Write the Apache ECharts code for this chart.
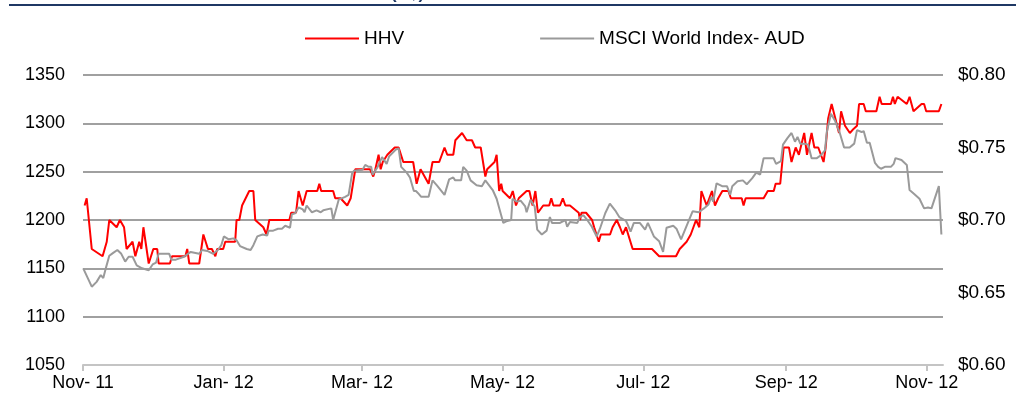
<!DOCTYPE html>
<html><head><meta charset="utf-8">
<script src="https://cdn.jsdelivr.net/npm/echarts@6/dist/echarts.min.js"></script>
<style>html,body{margin:0;padding:0;background:#fff}#c{width:1016px;height:408px}</style>
</head><body><div id="c"></div>
<script>
// x values are days since 1 Nov 2011
const monthTicks = [0, 61, 121, 182, 243, 305, 366];
const monthLabels = ['Nov- 11', 'Jan- 12', 'Mar- 12', 'May- 12', 'Jul- 12', 'Sep- 12', 'Nov- 12'];
const seriesNames = ['HHV', 'MSCI World Index- AUD'];

// HHV share price (A$), right axis
const hhv = [[0.7,0.71],[1.6,0.715],[3.8,0.68],[8.5,0.675],[10.3,0.685],[11.4,0.70],[14.6,0.695],[16.0,0.70],[17.8,0.695],[18.9,0.68],[21.5,0.685],[22.7,0.675],[24.4,0.685],[25.3,0.68],[26.2,0.695],[28.5,0.67],[30.5,0.68],[32.2,0.68],[32.8,0.67],[37.7,0.67],[38.6,0.675],[44.4,0.675],[45.2,0.68],[46.1,0.67],[50.4,0.67],[52.2,0.69],[54.2,0.68],[55.9,0.68],[57.4,0.675],[58.2,0.68],[60.8,0.68],[61.7,0.685],[66.0,0.685],[66.6,0.70],[67.8,0.70],[69.0,0.71],[72.1,0.72],[73.9,0.72],[74.7,0.70],[78.2,0.695],[79.6,0.69],[80.8,0.70],[89.5,0.70],[90.3,0.705],[92.4,0.705],[93.5,0.72],[95.3,0.71],[97.0,0.72],[101.6,0.72],[102.5,0.725],[103.3,0.72],[108.5,0.72],[109.4,0.715],[111.7,0.715],[114.6,0.71],[116.1,0.715],[118.1,0.735],[124.5,0.735],[125.9,0.73],[126.8,0.735],[128.2,0.745],[129.1,0.735],[130.0,0.74],[132.0,0.745],[135.2,0.75],[136.9,0.75],[138.9,0.74],[143.2,0.74],[144.7,0.725],[146.4,0.735],[149.9,0.725],[151.6,0.74],[154.5,0.74],[156.8,0.75],[158.0,0.745],[160.6,0.745],[161.5,0.755],[164.4,0.76],[166.4,0.755],[168.7,0.755],[170.1,0.75],[172.5,0.75],[174.5,0.73],[175.3,0.735],[178.5,0.74],[179.4,0.745],[180.5,0.72],[181.4,0.725],[182.0,0.72],[185.2,0.715],[186.4,0.72],[187.8,0.71],[189.0,0.715],[192.4,0.72],[193.6,0.72],[195.0,0.71],[196.2,0.72],[197.3,0.705],[199.6,0.71],[202.2,0.71],[203.1,0.715],[204.0,0.71],[206.9,0.71],[208.1,0.715],[209.2,0.71],[211.2,0.71],[215.0,0.705],[215.6,0.70],[216.2,0.705],[218.2,0.705],[220.8,0.70],[221.7,0.695],[223.7,0.685],[224.6,0.69],[228.6,0.69],[229.7,0.695],[231.5,0.70],[232.9,0.695],[234.1,0.69],[235.5,0.695],[238.4,0.68],[246.8,0.68],[249.9,0.675],[257.2,0.675],[258.8,0.68],[261.8,0.685],[263.6,0.69],[265.9,0.70],[267.3,0.695],[268.2,0.72],[270.5,0.71],[272.8,0.72],[274.1,0.71],[275.5,0.715],[277.3,0.72],[279.9,0.72],[281.0,0.715],[285.7,0.715],[286.5,0.71],[287.4,0.715],[295.2,0.715],[297.0,0.72],[299.6,0.72],[300.4,0.725],[302.4,0.725],[303.9,0.75],[306.2,0.75],[307.3,0.74],[309.1,0.75],[310.5,0.745],[312.8,0.76],[314.0,0.745],[316.0,0.76],[317.2,0.75],[318.9,0.75],[321.2,0.74],[322.1,0.75],[323.2,0.77],[324.7,0.78],[327.9,0.76],[328.8,0.775],[330.5,0.765],[332.6,0.76],[334.3,0.763],[335.7,0.765],[336.6,0.78],[338.6,0.78],[339.5,0.775],[344.1,0.775],[345.5,0.785],[346.4,0.78],[350.4,0.78],[351.3,0.785],[352.1,0.78],[353.3,0.785],[357.3,0.78],[358.5,0.785],[359.0,0.785],[360.2,0.775],[363.7,0.78],[364.8,0.78],[365.7,0.775],[371.2,0.775],[372.3,0.78]];

// MSCI World Index in AUD, left axis
const msci = [[0.1,1150],[3.8,1131],[5.9,1136],[7.7,1143],[8.8,1140],[10.0,1151],[11.4,1163],[13.1,1166],[14.9,1169],[16.6,1165],[18.3,1157],[19.8,1162],[21.5,1162],[23.3,1153],[25.6,1150],[28.5,1148],[30.2,1154],[31.7,1156],[32.8,1165],[37.4,1165],[38.3,1159],[40.3,1159],[43.8,1162],[46.7,1167],[50.4,1165],[51.6,1169],[53.9,1168],[56.5,1165],[58.5,1169],[60.0,1174],[61.1,1183],[63.2,1180],[65.2,1181],[66.6,1179],[68.1,1173],[71.0,1170],[72.7,1169],[73.9,1174],[75.6,1183],[77.9,1185],[79.9,1184],[80.5,1189],[82.5,1189],[84.6,1191],[86.3,1191],[87.7,1194],[89.8,1192],[90.6,1206],[92.0,1207],[93.5,1213],[95.3,1211],[96.1,1208],[97.0,1215],[99.3,1208],[101.3,1210],[103.1,1208],[104.2,1210],[107.7,1212],[108.5,1200],[110.9,1221],[113.7,1224],[115.2,1226],[116.7,1248],[117.5,1251],[121.3,1252],[122.4,1257],[123.9,1255],[125.0,1255],[125.6,1247],[127.6,1254],[129.7,1265],[131.7,1258],[132.8,1266],[135.7,1273],[136.9,1274],[138.0,1255],[140.4,1249],[141.8,1244],[143.5,1230],[144.4,1230],[145.6,1227],[146.7,1224],[149.9,1224],[151.6,1241],[153.4,1236],[156.8,1226],[158.8,1242],[160.6,1244],[161.4,1241],[164.0,1241],[164.9,1255],[166.4,1251],[168.1,1241],[170.7,1236],[173.0,1235],[174.5,1241],[177.7,1231],[179.4,1222],[182.3,1197],[184.0,1199],[185.7,1200],[186.3,1222],[188.1,1219],[189.8,1220],[191.8,1214],[192.4,1208],[194.1,1221],[195.9,1214],[197.0,1190],[199.0,1185],[201.1,1189],[202.5,1203],[203.4,1197],[206.9,1197],[209.2,1200],[210.0,1193],[211.2,1198],[214.4,1197],[215.5,1203],[217.0,1205],[218.7,1200],[220.7,1193],[222.8,1183],[224.2,1191],[226.5,1207],[228.5,1217],[230.8,1210],[232.6,1203],[235.5,1199],[236.3,1195],[237.5,1188],[238.9,1197],[241.5,1197],[243.8,1190],[245.0,1197],[247.6,1183],[249.9,1178],[251.6,1167],[253.1,1192],[256.0,1194],[257.4,1191],[259.4,1180],[261.8,1194],[264.4,1209],[267.0,1208],[269.3,1212],[271.3,1216],[272.5,1224],[273.3,1219],[274.8,1238],[275.4,1239],[277.2,1235],[279.3,1235],[280.7,1226],[281.6,1235],[283.9,1240],[286.2,1241],[287.9,1237],[290.2,1243],[292.0,1249],[293.7,1247],[295.2,1264],[299.5,1264],[300.6,1258],[302.7,1261],[303.6,1278],[305.6,1285],[307.3,1290],[308.8,1281],[309.9,1286],[311.1,1279],[312.8,1279],[314.5,1278],[316.0,1264],[318.3,1264],[320.0,1267],[321.8,1272],[322.6,1291],[324.4,1310],[326.1,1303],[328.1,1291],[330.1,1275],[332.5,1275],[334.5,1279],[335.7,1293],[337.7,1291],[338.6,1292],[340.0,1280],[341.2,1280],[343.5,1259],[344.9,1255],[346.1,1253],[347.8,1255],[350.4,1255],[351.6,1258],[352.4,1264],[355.0,1262],[357.3,1257],[358.5,1231],[360.5,1227],[362.8,1222],[364.8,1212],[366.5,1213],[368.0,1212],[371.2,1235],[372.3,1185]];

const FONT = "'Liberation Sans', Arial, sans-serif";
const chart = echarts.init(document.getElementById('c'), null, {renderer: 'canvas'});
chart.setOption({
  animation: false,
  backgroundColor: '#fff',
  graphic: [
    {type: 'rect', shape: {x: 9, y: 4, width: 1007, height: 2}, style: {fill: '#1f3864'}, z: 10},
    {type: 'text', x: 391, y: 3, style: {text: '(A$)', fill: '#1f3864', font: 'bold 17px ' + FONT, verticalAlign: 'bottom'}, z: 9}
  ],
  legend: {
    data: seriesNames,
    left: 300, top: 24,
    icon: 'rect', itemWidth: 54, itemHeight: 2, itemGap: 136,
    textStyle: {fontSize: 19, color: '#000', fontFamily: FONT}
  },
  grid: {left: 83, right: 73, top: 75, bottom: 43, containLabel: false},
  xAxis: {
    type: 'value', min: 0, max: 373,
    axisLine: {show: true, onZero: false, lineStyle: {color: '#c4c4c4', width: 2}},
    axisTick: {show: true, customValues: monthTicks, length: 6, lineStyle: {color: '#c4c4c4', width: 2}},
    axisLabel: {
      customValues: monthTicks, margin: 9, color: '#000', fontSize: 18, fontFamily: FONT,
      formatter: v => monthLabels[monthTicks.indexOf(Math.round(v))] || ''
    },
    splitLine: {show: false}
  },
  yAxis: [
    {
      type: 'value', position: 'left', min: 1050, max: 1350, interval: 50,
      axisLine: {show: false}, axisTick: {show: false},
      axisLabel: {margin: 18, color: '#000', fontSize: 18, fontFamily: FONT, formatter: v => String(v)},
      splitLine: {show: true, lineStyle: {color: '#a0a0a0', width: 2}}
    },
    {
      type: 'value', position: 'right', min: 0.60, max: 0.80, interval: 0.05,
      axisLine: {show: false}, axisTick: {show: false},
      axisLabel: {margin: 15, color: '#000', fontSize: 19, fontFamily: FONT, formatter: v => '$' + v.toFixed(2)},
      splitLine: {show: false}
    }
  ],
  series: [
    {name: seriesNames[0], type: 'line', yAxisIndex: 1, data: hhv, showSymbol: false, symbol: 'none',
     lineStyle: {color: '#ff0000', width: 2}, itemStyle: {color: '#ff0000'}, z: 3},
    {name: seriesNames[1], type: 'line', yAxisIndex: 0, data: msci, showSymbol: false, symbol: 'none',
     lineStyle: {color: '#9a9a9a', width: 2}, itemStyle: {color: '#9a9a9a'}, z: 4}
  ]
});
</script></body></html>
